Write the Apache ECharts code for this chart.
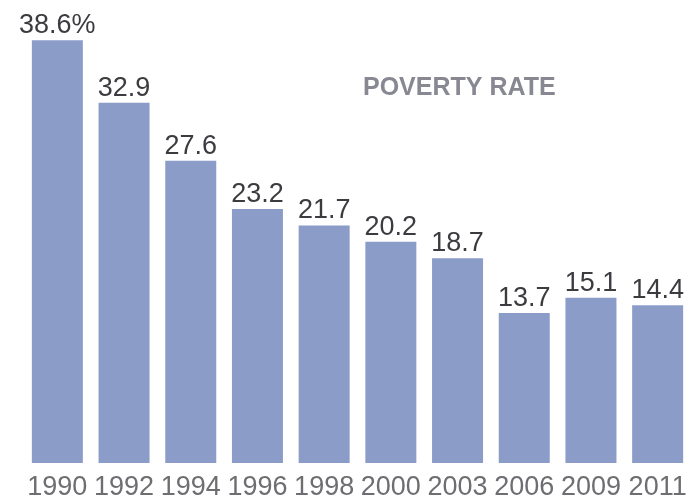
<!DOCTYPE html>
<html>
<head>
<meta charset="utf-8">
<script src="https://cdn.jsdelivr.net/npm/echarts@6/dist/echarts.min.js"></script>
<style>
    html, body { margin: 0; padding: 0; background: #fff; }
    #chart { width: 691px; height: 503px; }
</style>
</head>
<body>
<div id="chart"></div>
<script type="text/javascript">
    // 数据
    var years = ['1990', '1992', '1994', '1996', '1998', '2000', '2003', '2006', '2009', '2011'];
    var povertyRate = [38.6, 32.9, 27.6, 23.2, 21.7, 20.2, 18.7, 13.7, 15.1, 14.4];
    var chartTitle = 'POVERTY RATE';

    var font = '"Liberation Sans", Arial, sans-serif';
    var chart = echarts.init(document.getElementById('chart'));
    var options = {
        animation: false,
        title: {
            text: chartTitle,
            left: 358,
            top: 71,
            textStyle: {
                fontFamily: font,
                fontSize: 25,
                fontWeight: 'bold',
                color: '#878891'
            }
        },
        grid: {
            left: 24,
            right: 0,
            top: 25,
            bottom: 40
        },
        xAxis: {
            type: 'category',
            data: years,
            axisLine: { show: false },
            axisTick: { show: false },
            axisLabel: {
                margin: 11,
                interval: 0,
                fontFamily: font,
                fontSize: 27,
                color: '#6e6e72'
            }
        },
        yAxis: {
            type: 'value',
            min: 0,
            max: 40,
            show: false
        },
        series: [{
            type: 'bar',
            data: povertyRate,
            barWidth: 51,
            itemStyle: { color: '#8b9cc8' },
            label: {
                show: true,
                position: 'top',
                distance: 1,
                fontFamily: font,
                fontSize: 27,
                color: '#3c3c40',
                formatter: function (p) {
                    return p.dataIndex === 0 ? p.value + '%' : p.value;
                }
            }
        }]
    };
    chart.setOption(options);
</script>
</body>
</html>
